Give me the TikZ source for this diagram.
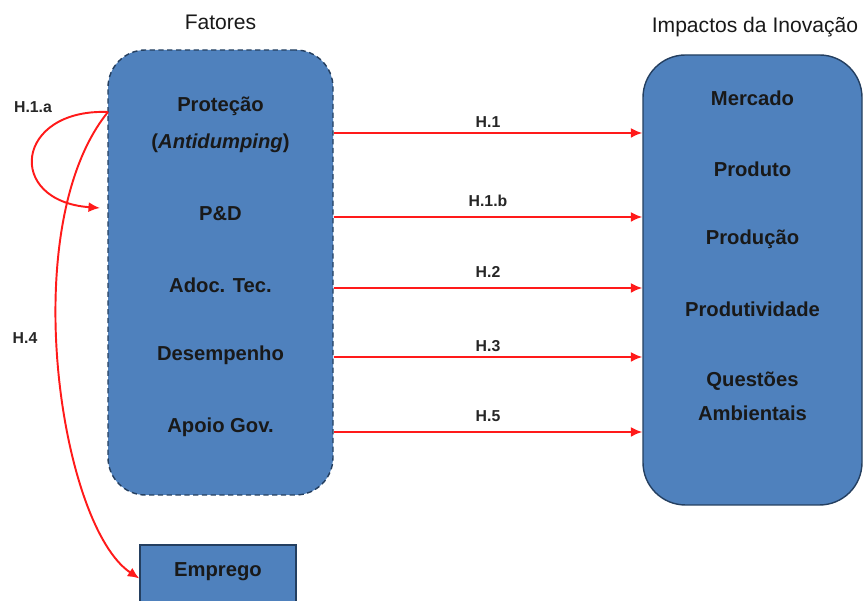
\documentclass[tikz,border=0pt]{standalone}
\usepackage{fontspec}
\setmainfont{Liberation Sans}
\usepackage{tikz}
\usetikzlibrary{arrows.meta}

\definecolor{boxblue}{HTML}{4F81BD}
\definecolor{boxline}{HTML}{243F60}
\definecolor{hypred}{HTML}{FF1A1A}

\begin{document}
\begin{tikzpicture}
    \tikzstyle{fat box}=[
        draw = boxline,
        thick,
        densely dashed,
        fill = boxblue,
        rounded corners = 0.75cm,
        minimum width = 4.5cm,
        minimum height = 8.9cm
    ]
    \tikzstyle{imp box}=[
        draw = boxline,
        thick,
        fill = boxblue,
        rounded corners = 0.85cm,
        minimum width = 4.38cm,
        minimum height = 9.0cm
    ]
    \tikzstyle{emp box}=[
        draw = boxline,
        thick,
        fill = boxblue,
        minimum width = 3.12cm,
        minimum height = 1.34cm
    ]
    \tikzstyle{item}=[
        font = \fontsize{11.5}{13}\selectfont\bfseries,
        text = black!90
    ]
    \tikzstyle{hyp}=[
        font = \fontsize{9}{10}\selectfont\bfseries,
        text = black!85
    ]
    \tikzstyle{title}=[
        font = \fontsize{12}{14}\selectfont,
        text = black!90
    ]
    \tikzstyle{hyp arrow}=[
        -{Latex[length=2.3mm, width=2mm]},
        hypred,
        line width = 1.1pt
    ]

    \useasboundingbox (0, 0) rectangle (17.28, 12.02);

	\node[fat box]   (fat) at (4.41, 6.57)  {};
	\node[imp box]   (imp) at (15.05, 6.42) {};
	\node[emp box]   (emp) at (4.36, 0.45)  {};

	\node[title]   (tfat) at (4.41, 11.58)  {Fatores};
	\node[title]   (timp) at (15.1, 11.48)  {Impactos da Inovação};

	\node[item]   (prot) at (4.41, 9.90)  {Proteção};
	\node[item]   (anti) at (4.41, 9.16)  {(\textit{Antidumping})};
	\node[item]   (ped)  at (4.41, 7.74)  {P\&D};
	\node[item]   (adoc) at (4.41, 6.32)  {Adoc. Tec.};
	\node[item]   (dese) at (4.41, 4.92)  {Desempenho};
	\node[item]   (apoi) at (4.41, 3.48)  {Apoio Gov.};

	\node[item]   (merc) at (15.05, 10.06) {Mercado};
	\node[item]   (prdt) at (15.05, 8.64)  {Produto};
	\node[item]   (prdc) at (15.05, 7.24)  {Produção};
	\node[item]   (prtv) at (15.05, 5.84)  {Produtividade};
	\node[item]   (ques) at (15.05, 4.40)  {Questões};
	\node[item]   (ambi) at (15.05, 3.76)  {Ambientais};

	\node[item]   (empt) at (4.36, 0.58)  {Emprego};

	\coordinate (h1)  at (0, 9.36);
	\coordinate (h1b) at (0, 7.68);
	\coordinate (h2)  at (0, 6.26);
	\coordinate (h3)  at (0, 4.88);
	\coordinate (h5)  at (0, 3.38);
	\coordinate (src) at (2.16, 9.78);
	\coordinate (dst) at (2.0, 7.86);

	\path[hyp arrow] (fat.east |- h1)  edge node[hyp, above=-1pt]{H.1}   (imp.west |- h1);
	\path[hyp arrow] (fat.east |- h1b) edge node[hyp, above=2pt]{H.1.b}  (imp.west |- h1b);
	\path[hyp arrow] (fat.east |- h2)  edge node[hyp, above=2pt]{H.2}    (imp.west |- h2);
	\path[hyp arrow] (fat.east |- h3)  edge node[hyp, above=-1pt]{H.3}   (imp.west |- h3);
	\path[hyp arrow] (fat.east |- h5)  edge node[hyp, above=2pt]{H.5}    (imp.west |- h5);

	\draw[hyp arrow] (src) .. controls (0.3, 9.85) and (0.1, 8.0) .. (dst);
	\draw[hyp arrow] (src) .. controls (0.3, 7.5) and (1.2, 1.5) .. (emp.west);

	\node[hyp]   (h1a) at (0.66, 9.88)  {H.1.a};
	\node[hyp]   (h4)  at (0.5, 5.26)   {H.4};

\end{tikzpicture}
\end{document}
